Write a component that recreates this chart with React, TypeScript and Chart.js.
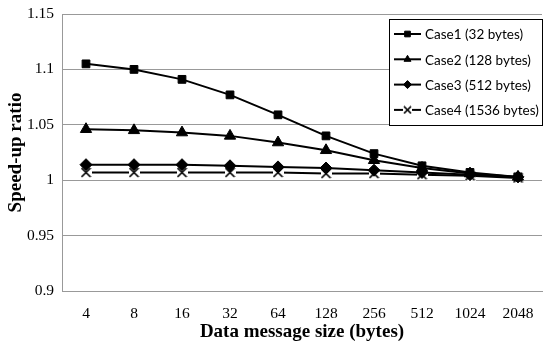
import React, { useEffect, useRef } from "react";
import { Chart, registerables } from "chart.js";
import { drawPoint } from "chart.js/helpers";

Chart.register(...registerables);

const categories = ["4", "8", "16", "32", "64", "128", "256", "512", "1024", "2048"];
const case1 = [1.105, 1.1, 1.091, 1.077, 1.059, 1.04, 1.024, 1.013, 1.007, 1.003];
const case2 = [1.046, 1.045, 1.043, 1.04, 1.034, 1.027, 1.018, 1.011, 1.006, 1.003];
const case3 = [1.014, 1.014, 1.014, 1.013, 1.012, 1.011, 1.009, 1.007, 1.005, 1.003];
const case4 = [1.007, 1.007, 1.007, 1.007, 1.007, 1.006, 1.006, 1.005, 1.004, 1.002];
const seriesLabels = ["Case1 (32 bytes)", "Case2 (128 bytes)", "Case3 (512 bytes)", "Case4 (1536 bytes)"];

function makeXMarker(size: number): HTMLCanvasElement {
  const c = document.createElement("canvas");
  c.width = size;
  c.height = size;
  const g = c.getContext("2d")!;
  g.fillStyle = "#ffffff";
  g.fillRect(0, 0, size, size);
  g.strokeStyle = "#000000";
  g.lineWidth = 1.7;
  g.beginPath();
  g.moveTo(1, 1);
  g.lineTo(size - 1, size - 1);
  g.moveTo(size - 1, 1);
  g.lineTo(1, size - 1);
  g.stroke();
  return c;
}

const legendPlugin = {
  id: "boxLegend",
  afterDraw(chart: any) {
    const ctx = chart.ctx;
    const x0 = 389.5, y0 = 19.5, w = 153, h = 106;
    ctx.save();
    ctx.fillStyle = "#ffffff";
    ctx.fillRect(x0, y0, w, h);
    ctx.strokeStyle = "#000000";
    ctx.lineWidth = 1;
    ctx.strokeRect(x0, y0, w, h);
    ctx.font = "13.5px Lato";
    ctx.textBaseline = "middle";
    chart.data.datasets.forEach((ds: any, i: number) => {
      const y = 34 + i * 25.3;
      ctx.strokeStyle = "#000";
      ctx.lineWidth = 2;
      ctx.beginPath();
      ctx.moveTo(394, y);
      ctx.lineTo(421, y);
      ctx.stroke();
      const meta = chart.getDatasetMeta(i);
      const el = meta.data[0];
      if (el) {
        const o = el.options;
        ctx.save();
        ctx.fillStyle = o.backgroundColor;
        ctx.strokeStyle = o.borderColor;
        ctx.lineWidth = o.borderWidth;
        drawPoint(ctx, { pointStyle: ds.legendStyle || o.pointStyle, radius: 4, rotation: 0, borderWidth: o.borderWidth } as any, 407.5, y);
        ctx.restore();
      }
      ctx.fillStyle = "#000";
      ctx.fillText(ds.label, 425, y + 1);
    });
    ctx.restore();
  },
};

export default function App() {
  const ref = useRef<HTMLCanvasElement | null>(null);
  useEffect(() => {
    if (!ref.current) return;
    const xm = makeXMarker(11);
    const xmSmall = makeXMarker(9);
    const common = {
      borderColor: "#000",
      backgroundColor: "#000",
      borderWidth: 2,
      pointBorderColor: "#000",
      pointBackgroundColor: "#000",
      pointBorderWidth: 1,
      tension: 0,
    };
    const chart = new Chart(ref.current, {
      type: "line",
      data: {
        labels: categories,
        datasets: [
          { ...common, label: seriesLabels[0], data: case1, pointStyle: "rect", pointRadius: 5.5 },
          { ...common, label: seriesLabels[1], data: case2, pointStyle: "triangle", pointRadius: 6.5 },
          { ...common, label: seriesLabels[2], data: case3, pointStyle: "rectRot", pointRadius: 6 },
          { ...common, label: seriesLabels[3], data: case4, pointStyle: xm as any, pointRadius: 5, legendStyle: xmSmall } as any,
        ],
      },
      options: {
        responsive: false,
        animation: false,
        layout: { padding: { top: 14, right: 8, left: 0, bottom: 0 } },
        plugins: {
          legend: { display: false },
          tooltip: { enabled: false },
        },
        scales: {
          x: {
            offset: true,
            grid: { display: false },
            border: { color: "#999", width: 1 },
            ticks: { color: "#000", font: { family: "Liberation Serif", size: 15.5 }, padding: 6 },
            title: {
              display: true,
              text: "Data message size (bytes)",
              color: "#000",
              font: { family: "Liberation Serif", size: 19, weight: "bold" },
              padding: { top: 0, bottom: 0 },
            },
            afterFit(scale: any) {
              scale.height = 52;
              scale.paddingLeft = 0;
              scale.paddingRight = 0;
            },
          },
          y: {
            min: 0.9,
            max: 1.15,
            grid: { color: "#999", drawTicks: false },
            border: { color: "#999", width: 1 },
            ticks: {
              stepSize: 0.05,
              color: "#000",
              padding: 8,
              font: { family: "Liberation Serif", size: 15.5 },
              callback: (v: any) => String(Number(Number(v).toFixed(2))),
            },
            title: {
              display: true,
              text: "Speed-up ratio",
              color: "#000",
              font: { family: "Liberation Serif", size: 19, weight: "bold" },
              padding: { top: 5, bottom: 2 },
            },
            afterFit(scale: any) {
              scale.width = 62;
              scale.paddingTop = 0;
              scale.paddingBottom = 0;
            },
          },
        },
      },
      plugins: [legendPlugin],
    });
    return () => chart.destroy();
  }, []);
  return (
    <div style={{ position: "absolute", left: 0, top: 0, width: 550, height: 343, background: "#fff" }}>
      <canvas ref={ref} width={550} height={343} />
    </div>
  );
}
